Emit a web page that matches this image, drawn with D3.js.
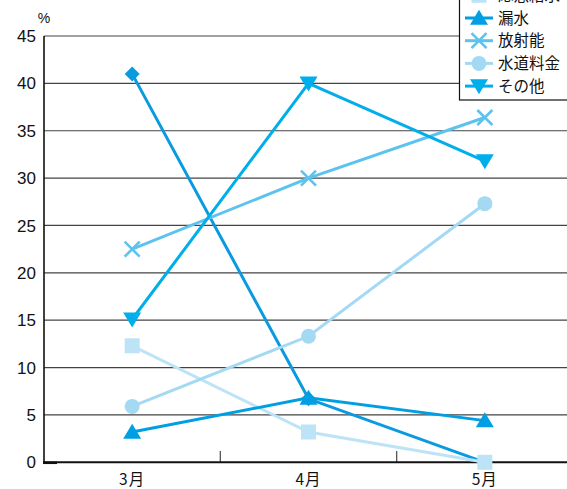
<!DOCTYPE html>
<html><head><meta charset="utf-8">
<script src="https://cdn.jsdelivr.net/npm/d3@7"></script>
<style>
html,body{margin:0;padding:0;background:#fff;overflow:hidden;}
svg{display:block;}
</style></head>
<body>
<svg id="chart" width="567" height="489"></svg>
<script>
const categories = ["3月", "4月", "5月"];
const seriesNames = ["断水", "応急給水", "漏水", "放射能", "水道料金", "その他"];
const valsDansui = [41.0, 6.7, 0.0];
const valsKyusui = [12.3, 3.2, 0.0];
const valsRousui = [3.2, 6.8, 4.4];
const valsHoshano = [22.5, 30.0, 36.4];
const valsRyokin = [5.9, 13.3, 27.3];
const valsSonota = [15.1, 40.0, 31.8];
const yTicks = [0, 5, 10, 15, 20, 25, 30, 35, 40, 45];
const seriesValues = [valsDansui, valsKyusui, valsRousui, valsHoshano, valsRyokin, valsSonota];
const colors = ["#0a9ae0", "#bde3f7", "#009fe3", "#5cc3ef", "#a4d9f4", "#00aeeb"];
const shapes = ["diamond", "square", "triUp", "cross", "circle", "triDown"];

const svg = d3.select("#chart");
const x = d3.scalePoint().domain(categories).range([44, 573]).padding(0.5);
const y = d3.scaleLinear().domain([0, 45]).range([462.3, 36]);

const numFont = "'Liberation Sans', Arial, sans-serif";
const jpFont = "'Noto Sans CJK JP', sans-serif";

// gridlines
svg.append("g").selectAll("line").data(yTicks.filter(t => t > 0)).join("line")
  .attr("x1", 44).attr("x2", 567)
  .attr("y1", d => y(d)).attr("y2", d => y(d))
  .attr("stroke", "#444").attr("stroke-width", 1.2);

// y labels
svg.append("g").selectAll("text").data(yTicks).join("text")
  .attr("x", 36).attr("y", d => y(d)).attr("dy", "0.36em")
  .attr("text-anchor", "end")
  .attr("font-family", numFont).attr("font-size", 17).attr("fill", "#111")
  .text(d => d);

svg.append("text").attr("x", 44).attr("y", 18).attr("dy", "0.36em")
  .attr("text-anchor", "middle").attr("font-family", numFont)
  .attr("font-size", 14).attr("fill", "#111").text("%");

// x ticks between categories
const step = x.step();
const bounds = categories.slice(1).map(c => x(c) - step / 2);
svg.append("g").selectAll("line").data(bounds).join("line")
  .attr("x1", d => d).attr("x2", d => d)
  .attr("y1", 451).attr("y2", 462)
  .attr("stroke", "#555").attr("stroke-width", 1.3);

// axes
svg.append("line").attr("x1", 44).attr("x2", 44).attr("y1", 36).attr("y2", 463)
  .attr("stroke", "#111").attr("stroke-width", 1.6);
svg.append("line").attr("x1", 43).attr("x2", 567).attr("y1", y(0)).attr("y2", y(0))
  .attr("stroke", "#111").attr("stroke-width", 2);
svg.append("line").attr("x1", 43).attr("x2", 57).attr("y1", y(0)+0.5).attr("y2", y(0)+0.5)
  .attr("stroke", "#111").attr("stroke-width", 2.5);

// x labels
svg.append("g").selectAll("text").data(categories).join("text")
  .attr("x", d => x(d)).attr("y", 479).attr("dy", "0.36em")
  .attr("text-anchor", "middle").attr("font-family", jpFont)
  .attr("font-size", 15.5).attr("letter-spacing", 1).attr("fill", "#111")
  .text(d => d);

function marker(g, shape, cx, cy, color) {
  if (shape === "diamond") {
    const r = 7.5;
    g.append("path").attr("d", `M${cx},${cy - r}L${cx + r},${cy}L${cx},${cy + r}L${cx - r},${cy}Z`).attr("fill", color);
  } else if (shape === "square") {
    const s = 15;
    g.append("rect").attr("x", cx - s / 2).attr("y", cy - s / 2).attr("width", s).attr("height", s).attr("fill", color);
  } else if (shape === "circle") {
    g.append("circle").attr("cx", cx).attr("cy", cy).attr("r", 7.5).attr("fill", color);
  } else if (shape === "triUp") {
    const w = 9, h = 15;
    g.append("path").attr("d", `M${cx},${cy - h * 0.55}L${cx + w},${cy + h * 0.45}L${cx - w},${cy + h * 0.45}Z`).attr("fill", color);
  } else if (shape === "triDown") {
    const w = 9, h = 15;
    g.append("path").attr("d", `M${cx},${cy + h * 0.55}L${cx + w},${cy - h * 0.45}L${cx - w},${cy - h * 0.45}Z`).attr("fill", color);
  } else if (shape === "cross") {
    const r = 7.5;
    g.append("path").attr("d", `M${cx - r},${cy - r}L${cx + r},${cy + r}M${cx - r},${cy + r}L${cx + r},${cy - r}`)
      .attr("stroke", color).attr("stroke-width", 2.6).attr("fill", "none");
  }
}

const line = d3.line().x((d, i) => x(categories[i])).y(d => y(d));
const plot = svg.append("g");
seriesValues.forEach((vals, si) => {
  const g = plot.append("g");
  g.append("path").attr("d", line(vals)).attr("fill", "none")
    .attr("stroke", colors[si]).attr("stroke-width", 3);
  vals.forEach((v, i) => marker(g, shapes[si], x(categories[i]), y(v), colors[si]));
});

// legend
const legY0 = -27.4, legStep = 22.7;
const leg = svg.append("g");
leg.append("rect").attr("x", 459.5).attr("y", -60).attr("width", 130).attr("height", 160)
  .attr("fill", "#fff").attr("stroke", "#111").attr("stroke-width", 1.2);
seriesNames.forEach((name, si) => {
  const cy = legY0 + si * legStep;
  leg.append("line").attr("x1", 465).attr("x2", 493).attr("y1", cy).attr("y2", cy)
    .attr("stroke", colors[si]).attr("stroke-width", 3);
  marker(leg, shapes[si], 479, cy, colors[si]);
  leg.append("text").attr("x", 498).attr("y", cy).attr("dy", "0.36em")
    .attr("font-family", jpFont).attr("font-size", 15.5).attr("fill", "#111")
    .text(name);
});
</script>
</body></html>
